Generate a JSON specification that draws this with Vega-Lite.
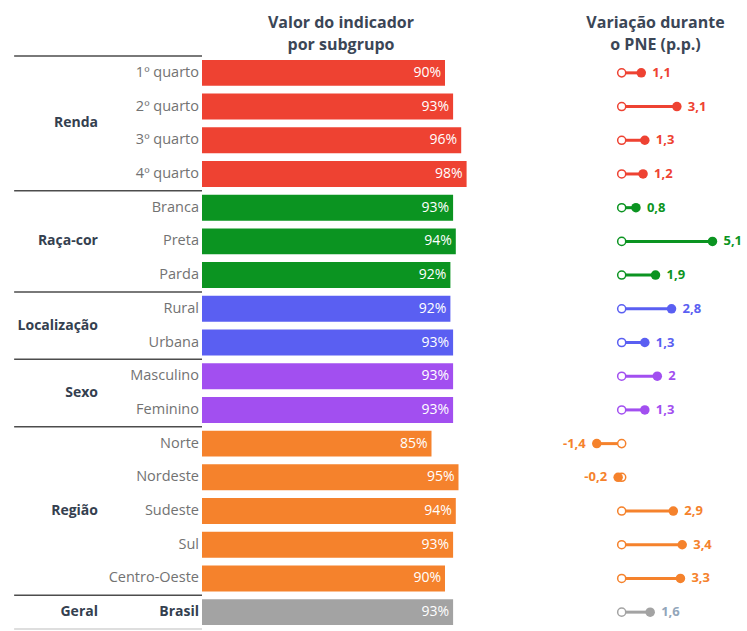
{
  "$schema": "https://vega.github.io/schema/vega-lite/v6.json",
  "background": "white",
  "padding": {"left": 0, "top": 15, "right": 0, "bottom": 0},
  "bounds": "flush",
  "spacing": 0,
  "config": {
    "view": {"stroke": null},
    "font": "Open Sans",
    "locale": {"number": {"decimal": ",", "thousands": ".", "grouping": [3], "currency": ["R$ ", ""], "minus": "-"}}
  },
  "data": {
    "values": [
      {"grp": "Renda", "sub": "1º quarto", "val": 0.90, "chg": 1.1},
      {"grp": "Renda", "sub": "2º quarto", "val": 0.93, "chg": 3.1},
      {"grp": "Renda", "sub": "3º quarto", "val": 0.96, "chg": 1.3},
      {"grp": "Renda", "sub": "4º quarto", "val": 0.98, "chg": 1.2},
      {"grp": "Raça-cor", "sub": "Branca", "val": 0.93, "chg": 0.8},
      {"grp": "Raça-cor", "sub": "Preta", "val": 0.94, "chg": 5.1},
      {"grp": "Raça-cor", "sub": "Parda", "val": 0.92, "chg": 1.9},
      {"grp": "Localização", "sub": "Rural", "val": 0.92, "chg": 2.8},
      {"grp": "Localização", "sub": "Urbana", "val": 0.93, "chg": 1.3},
      {"grp": "Sexo", "sub": "Masculino", "val": 0.93, "chg": 2},
      {"grp": "Sexo", "sub": "Feminino", "val": 0.93, "chg": 1.3},
      {"grp": "Região", "sub": "Norte", "val": 0.85, "chg": -1.4},
      {"grp": "Região", "sub": "Nordeste", "val": 0.95, "chg": -0.2},
      {"grp": "Região", "sub": "Sudeste", "val": 0.94, "chg": 2.9},
      {"grp": "Região", "sub": "Sul", "val": 0.93, "chg": 3.4},
      {"grp": "Região", "sub": "Centro-Oeste", "val": 0.90, "chg": 3.3},
      {"grp": "Geral", "sub": "Brasil", "val": 0.93, "chg": 1.6}
    ]
  },
  "hconcat": [
    {
      "width": 202,
      "height": 573,
      "encoding": {
        "y": {"field": "sub", "type": "nominal", "sort": null, "axis": null,
          "scale": {"paddingInner": 0, "paddingOuter": 0, "domain": ["1º quarto", "2º quarto", "3º quarto", "4º quarto", "Branca", "Preta", "Parda", "Rural", "Urbana", "Masculino", "Feminino", "Norte", "Nordeste", "Sudeste", "Sul", "Centro-Oeste", "Brasil"]}}
      },
      "layer": [
        {
          "transform": [{"filter": "datum.sub !== 'Brasil'"}],
          "mark": {"type": "text", "align": "right", "baseline": "middle", "fontSize": 14.5, "color": "#727272"},
          "encoding": {
            "x": {"datum": 0.985, "type": "quantitative", "scale": {"domain": [0, 1], "nice": false, "zero": false}, "axis": null},
            "text": {"field": "sub"}
          }
        },
        {
          "transform": [{"filter": "datum.sub === 'Brasil'"}],
          "mark": {"type": "text", "align": "right", "baseline": "middle", "fontSize": 14, "fontWeight": "bold", "color": "#34404f"},
          "encoding": {
            "x": {"datum": 0.985, "type": "quantitative"},
            "text": {"field": "sub"}
          }
        },
        {
          "transform": [
            {"window": [{"op": "row_number", "as": "rn"}], "groupby": ["grp"]},
            {"filter": "datum.rn == 1"}
          ],
          "mark": {"type": "rule", "color": "#4d4d4d", "strokeWidth": 1.5},
          "encoding": {
            "y": {"field": "sub", "type": "nominal", "sort": null, "bandPosition": 0},
            "x": {"datum": 0.07, "type": "quantitative"},
            "x2": {"datum": 1}
          }
        },
        {
          "transform": [{"filter": "datum.sub === 'Brasil'"}],
          "mark": {"type": "rule", "color": "#bdbdbd", "strokeWidth": 1.2},
          "encoding": {
            "y": {"field": "sub", "type": "nominal", "sort": null, "bandPosition": 1},
            "x": {"datum": 0.07, "type": "quantitative"},
            "x2": {"datum": 1}
          }
        },
        {
          "transform": [
            {"window": [{"op": "row_number", "as": "rn"}], "groupby": ["grp"]},
            {"joinaggregate": [{"op": "count", "as": "n"}], "groupby": ["grp"]},
            {"filter": "datum.rn == floor((datum.n + 1) / 2) && datum.n % 2 == 0"}
          ],
          "mark": {"type": "text", "align": "right", "baseline": "middle", "fontSize": 14, "fontWeight": "bold", "color": "#34404f"},
          "encoding": {
            "y": {"field": "sub", "type": "nominal", "sort": null, "bandPosition": 1},
            "x": {"datum": 0.485, "type": "quantitative"},
            "text": {"field": "grp"}
          }
        },
        {
          "transform": [
            {"window": [{"op": "row_number", "as": "rn"}], "groupby": ["grp"]},
            {"joinaggregate": [{"op": "count", "as": "n"}], "groupby": ["grp"]},
            {"filter": "datum.rn == floor((datum.n + 1) / 2) && datum.n % 2 == 1"}
          ],
          "mark": {"type": "text", "align": "right", "baseline": "middle", "fontSize": 14, "fontWeight": "bold", "color": "#34404f"},
          "encoding": {
            "y": {"field": "sub", "type": "nominal", "sort": null, "bandPosition": 0.5},
            "x": {"datum": 0.485, "type": "quantitative"},
            "text": {"field": "grp"}
          }
        }
      ]
    },
    {
      "width": 270,
      "height": 573,
      "title": {"text": ["Valor do indicador", "por subgrupo"], "anchor": "middle", "fontSize": 16, "fontWeight": "bold", "color": "#3b4656", "lineHeight": 22, "offset": 3, "dx": 4},
      "encoding": {
        "y": {"field": "sub", "type": "nominal", "sort": null, "axis": null,
          "scale": {"paddingInner": 0, "paddingOuter": 0, "domain": ["1º quarto", "2º quarto", "3º quarto", "4º quarto", "Branca", "Preta", "Parda", "Rural", "Urbana", "Masculino", "Feminino", "Norte", "Nordeste", "Sudeste", "Sul", "Centro-Oeste", "Brasil"]}}
      },
      "layer": [
        {
          "mark": {"type": "bar", "height": {"band": 0.77}},
          "encoding": {
            "x": {"field": "val", "type": "quantitative", "scale": {"domain": [0, 1], "nice": false}, "axis": null},
            "color": {"field": "grp", "type": "nominal", "legend": null,
              "scale": {"domain": ["Renda", "Raça-cor", "Localização", "Sexo", "Região", "Geral"], "range": ["#ee4232", "#0b9421", "#5a5ff2", "#a24ff0", "#f5822c", "#a3a3a3"]}}
          }
        },
        {
          "mark": {"type": "text", "align": "right", "baseline": "middle", "dx": -4, "color": "white", "fontSize": 14},
          "encoding": {
            "x": {"field": "val", "type": "quantitative"},
            "text": {"field": "val", "type": "quantitative", "format": ".0%"}
          }
        }
      ]
    },
    {
      "width": 275,
      "height": 573,
      "title": {"text": ["Variação durante", "o PNE (p.p.)"], "anchor": "middle", "fontSize": 16, "fontWeight": "bold", "color": "#3b4656", "lineHeight": 22, "offset": 3, "dx": 46},
      "encoding": {
        "y": {"field": "sub", "type": "nominal", "sort": null, "axis": null,
          "scale": {"paddingInner": 0, "paddingOuter": 0, "domain": ["1º quarto", "2º quarto", "3º quarto", "4º quarto", "Branca", "Preta", "Parda", "Rural", "Urbana", "Masculino", "Feminino", "Norte", "Nordeste", "Sudeste", "Sul", "Centro-Oeste", "Brasil"]}},
        "color": {"field": "grp", "type": "nominal", "legend": null,
          "scale": {"domain": ["Renda", "Raça-cor", "Localização", "Sexo", "Região", "Geral"], "range": ["#ee4232", "#0b9421", "#5a5ff2", "#a24ff0", "#f5822c", "#a3a3a3"]}}
      },
      "layer": [
        {
          "mark": {"type": "rule", "strokeWidth": 3},
          "encoding": {
            "x": {"field": "chg", "type": "quantitative", "scale": {"domain": [-8.41, 7.04], "nice": false, "zero": false}, "axis": null},
            "x2": {"datum": 0}
          }
        },
        {
          "mark": {"type": "point", "shape": "circle", "filled": false, "fill": "white", "fillOpacity": 1, "opacity": 1, "size": 65, "strokeWidth": 1.5},
          "encoding": {
            "x": {"datum": 0, "type": "quantitative"}
          }
        },
        {
          "mark": {"type": "circle", "size": 90, "opacity": 1},
          "encoding": {
            "x": {"field": "chg", "type": "quantitative"}
          }
        },
        {
          "transform": [{"filter": "datum.chg >= 0"}],
          "mark": {"type": "text", "align": "left", "baseline": "middle", "dx": 11, "fontSize": 13, "fontWeight": "bold"},
          "encoding": {
            "x": {"field": "chg", "type": "quantitative"},
            "text": {"field": "chg", "type": "quantitative", "format": "~g"},
            "color": {"condition": {"test": "datum.grp === 'Geral'", "value": "#93a6ba"}, "field": "grp", "type": "nominal", "legend": null}
          }
        },
        {
          "transform": [{"filter": "datum.chg < 0"}],
          "mark": {"type": "text", "align": "right", "baseline": "middle", "dx": -11, "fontSize": 13, "fontWeight": "bold"},
          "encoding": {
            "x": {"field": "chg", "type": "quantitative"},
            "text": {"field": "chg", "type": "quantitative", "format": "~g"}
          }
        }
      ]
    }
  ]
}
